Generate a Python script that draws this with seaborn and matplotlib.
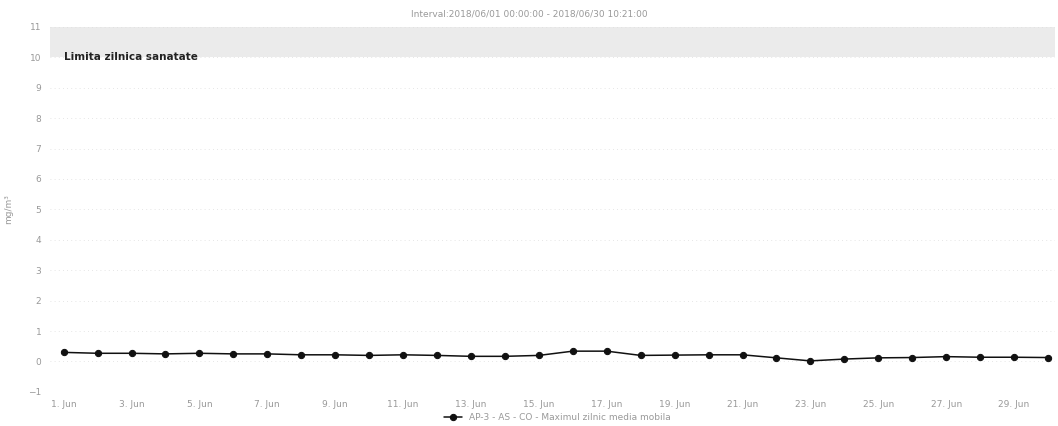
import matplotlib
matplotlib.use("Agg")
import matplotlib.pyplot as plt
import seaborn as sns
import pandas as pd


days = list(range(1, 31))
co_values = [0.30, 0.27, 0.27, 0.25, 0.27, 0.25, 0.25, 0.22, 0.22, 0.20,
             0.22, 0.20, 0.17, 0.17, 0.20, 0.34, 0.34, 0.20, 0.21, 0.22,
             0.22, 0.12, 0.02, 0.08, 0.12, 0.13, 0.16, 0.14, 0.14, 0.13]
tick_days = list(range(1, 30, 2))
tick_labels = [f"{d}. Jun" for d in tick_days]
y_ticks = list(range(-1, 12))
limit_low = 10
limit_high = 11

title_text = "Interval:2018/06/01 00:00:00 - 2018/06/30 10:21:00"
series_name = "AP-3 - AS - CO - Maximul zilnic media mobila"
limit_name = "Limita zilnica sanatate"
unit_label = "mg/m³"

sns.set_style("white")
plt.rcParams["font.family"] = ["DejaVu Sans"]

df = pd.DataFrame({"day": days, "value": co_values, "serie": series_name})

fig = plt.figure(figsize=(10.58, 4.26), dpi=100)
ax = fig.add_axes([0.047, 0.080, 0.950, 0.857])

# health limit band
ax.axhspan(limit_low, limit_high, color="#ebebeb", lw=0, zorder=0)
ax.text(1.0, limit_low, limit_name, fontsize=7.5, fontweight="bold",
        color="#222222", va="center", ha="left")

for y in y_ticks:
    ax.axhline(y, color="#dddddd", lw=0.6, ls=(0, (1, 4)), zorder=0)

sns.lineplot(
    data=df,
    x="day",
    y="value",
    hue="serie",
    palette=["#111111"],
    marker="o",
    markersize=4.5,
    markeredgecolor="#111111",
    linewidth=1.1,
    ax=ax
)

ax.set_xlim(0.59, 30.2)
ax.set_ylim(-1, 11)
ax.set_xticks(tick_days)
ax.set_xticklabels(tick_labels)
ax.set_yticks(y_ticks)
ax.tick_params(axis="both", labelsize=6.5, colors="#999999", length=0, pad=6)
ax.set_xlabel("")
ax.set_ylabel(unit_label, fontsize=6.5, color="#999999")
ax.yaxis.set_label_coords(-0.036, 0.5)
for s in ax.spines.values():
    s.set_visible(False)

fig.text(0.5, 0.962, title_text, fontsize=6.5, color="#999999", ha="center")

handles, labels = ax.get_legend_handles_labels()
ax.get_legend().remove()
fig.legend(
    handles,
    labels,
    loc="center",
    bbox_to_anchor=(0.527, 0.019),
    frameon=False,
    fontsize=6.5,
    labelcolor="#999999",
    handlelength=2,
    borderpad=0
)

plt.savefig("out.png", dpi=100)
plt.close()
